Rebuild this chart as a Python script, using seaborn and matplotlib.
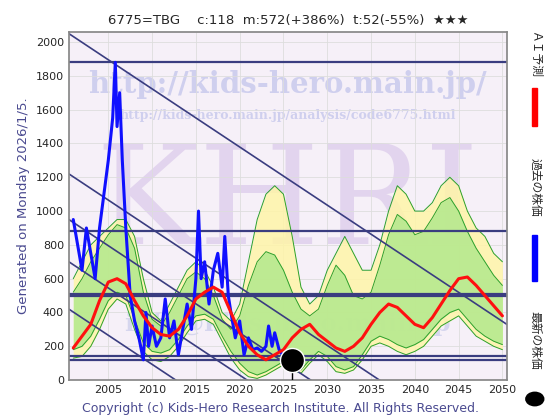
import numpy as np
import pandas as pd
import matplotlib
matplotlib.use('Agg')
import matplotlib.pyplot as plt
import seaborn as sns

sns.set_theme(style='whitegrid')
plt.rcParams['font.family'] = ['DejaVu Sans', 'Noto Sans CJK JP']

# past price (blue)
past_year = [2001.0, 2001.5, 2002.0, 2002.5, 2003.0, 2003.5, 2004.0, 2004.5, 2005.0, 2005.5, 2005.8,
             2006.0, 2006.3, 2006.6, 2007.0, 2007.5, 2008.0, 2008.5, 2009.0, 2009.3, 2009.6, 2010.0,
             2010.5, 2011.0, 2011.5, 2012.0, 2012.5, 2013.0, 2013.5, 2014.0, 2014.5, 2015.0, 2015.3,
             2015.6, 2016.0, 2016.5, 2017.0, 2017.5, 2018.0, 2018.3, 2018.7, 2019.0, 2019.5, 2020.0,
             2020.5, 2021.0, 2021.5, 2022.0, 2022.5, 2023.0, 2023.3, 2023.7, 2024.0, 2024.5, 2025.0]
past_price = [950, 800, 650, 900, 750, 600, 900, 1100, 1300, 1550, 1880,
              1500, 1700, 1300, 900, 500, 350, 250, 120, 400, 200, 320,
              200, 250, 480, 250, 350, 150, 300, 450, 300, 600, 1000,
              600, 700, 450, 650, 750, 550, 850, 500, 400, 250, 350,
              150, 250, 180, 190, 170, 200, 320, 200, 280, 180, 140]

years = list(range(2001, 2051))
ai_pred = [190, 260, 330, 470, 580, 600, 570, 470, 380, 310, 270, 260, 300, 380, 480, 520, 550, 520, 400, 280,
           200, 150, 120, 150, 180, 250, 300, 330, 270, 230, 190, 170, 200, 250, 330, 400, 450, 430, 380, 330,
           310, 370, 450, 530, 600, 610, 560, 500, 440, 380]
yellow_hi = [600, 700, 800, 850, 900, 950, 950, 850, 600, 400, 350, 450, 550, 650, 700, 650, 550, 400, 350, 450,
             700, 950, 1100, 1150, 1100, 850, 550, 450, 500, 650, 750, 850, 750, 650, 650, 800, 1000, 1150, 1100, 1000,
             1000, 1050, 1150, 1200, 1150, 1000, 900, 850, 750, 700]
yellow_lo = [130, 140, 200, 300, 420, 480, 450, 300, 170, 120, 110, 140, 200, 280, 350, 360, 330, 230, 130, 60,
             20, 10, 30, 60, 90, 60, 40, 100, 150, 110, 50, 40, 60, 120, 200, 220, 200, 170, 150, 170,
             200, 260, 320, 350, 380, 320, 260, 230, 200, 180]
green_hi = [520, 600, 700, 780, 860, 920, 900, 780, 520, 360, 320, 400, 500, 600, 640, 600, 500, 360, 300, 380,
            560, 700, 760, 740, 650, 520, 420, 380, 420, 560, 680, 620, 500, 480, 520, 680, 860, 980, 940, 860,
            880, 960, 1050, 1080, 1000, 880, 780, 700, 620, 560]
green_lo = [180, 200, 260, 360, 470, 520, 500, 360, 220, 170, 160, 180, 240, 320, 380, 390, 360, 260, 170, 100,
            50, 30, 50, 80, 110, 80, 60, 120, 170, 140, 80, 60, 80, 150, 230, 260, 240, 210, 190, 210,
            240, 300, 360, 400, 420, 360, 300, 260, 230, 210]
hlines = [1880, 880, 510, 500, 140, 120]
diag_start = [2050, 1220, 950, 700, 420]
diag_slope = -34.4
latest_year, latest_price = 2026.0, 120

df_past = pd.DataFrame({'year': past_year, 'price': past_price})
df_ai = pd.DataFrame({'year': years, 'price': ai_pred})

fig = plt.figure(figsize=(5.6, 4.2), dpi=100)
ax = fig.add_axes([0.123, 0.095, 0.782, 0.829])
ax.set_facecolor('#f6f0f8')

# watermarks (behind everything)
ax.text(0.5, 0.5, 'KHRI', transform=ax.transAxes, fontsize=100, color='#e2d4ee',
        ha='center', va='center', family='serif', zorder=0.1)
ax.text(0.5, 0.85, 'http://kids-hero.main.jp/', transform=ax.transAxes, fontsize=21,
        color='#cfcfee', ha='center', va='center', family='serif', fontweight='bold', zorder=0.1)
ax.text(0.5, 0.76, 'http://kids-hero.main.jp/analysis/code6775.html', transform=ax.transAxes,
        fontsize=9, color='#cfcfee', ha='center', va='center', family='serif', fontweight='bold', zorder=0.1)
ax.text(0.5, 0.16, 'info@kids-hero.main.jp', transform=ax.transAxes, fontsize=18,
        color='#d6d6ee', ha='center', va='center', family='serif', fontweight='bold', zorder=0.1)

ax.fill_between(years, yellow_lo, yellow_hi, color='#fff5a8', alpha=0.85, lw=0, zorder=1)
ax.fill_between(years, green_lo, green_hi, color='#aee88a', alpha=0.8, lw=0, zorder=1)
for lo, hi in [(yellow_lo, green_hi), (green_lo, yellow_hi)]:
    ax.plot(years, hi, color='#2ca02c', lw=0.7, zorder=1.5)
    ax.plot(years, lo, color='#2ca02c', lw=0.7, zorder=1.5)

for h in hlines:
    ax.axhline(h, color='#3a3d80', lw=1.6, zorder=2)
xs = np.array([2000.5, 2051.5])
for d in diag_start:
    ax.plot(xs, d + diag_slope * (xs - 2000.5), color='#3a3d80', lw=1.2, zorder=2)

sns.lineplot(data=df_past, x='year', y='price', color='#1010ff', lw=2.2, ax=ax, zorder=3)
sns.lineplot(data=df_ai, x='year', y='price', color='#ff1010', lw=2.2, ax=ax, zorder=3)
ax.plot([latest_year, latest_year], [0, latest_price], color='black', lw=1, zorder=4)
ax.scatter([latest_year], [latest_price], s=300, color='black', edgecolor='white', zorder=5)

ax.set_xlim(2000.5, 2050.5)
ax.set_ylim(0, 2060)
ax.set_xticks(range(2005, 2051, 5))
ax.set_yticks(range(0, 2001, 200))
ax.grid(color='#dddddd', lw=0.6)
ax.tick_params(labelsize=8, length=0)
ax.set_xlabel('')
ax.set_ylabel('Generated on Monday 2026/1/5.', color='#4a4a90', fontsize=9.5)
for s in ax.spines.values():
    s.set_color('#888888')
ax.set_title('6775=TBG    c:118  m:572(+386%)  t:52(-55%)  ★★★', fontsize=9.5, pad=6)
fig.text(0.5, 0.02, 'Copyright (c) Kids-Hero Research Institute. All Rights Reserved.',
         ha='center', color='#4a4a90', fontsize=9)

fam = ['Noto Sans CJK JP', 'DejaVu Sans']
fig.text(0.955, 0.87, 'ＡＩ予測', rotation=-90, ha='center', va='center', fontsize=8.5, family=fam)
fig.add_artist(plt.Rectangle((0.95, 0.70), 0.009, 0.09, color='red', transform=fig.transFigure))
fig.text(0.955, 0.555, '過去の株価', rotation=-90, ha='center', va='center', fontsize=8.5, family=fam)
fig.add_artist(plt.Rectangle((0.95, 0.33), 0.009, 0.11, color='blue', transform=fig.transFigure))
fig.text(0.955, 0.19, '最新の株価', rotation=-90, ha='center', va='center', fontsize=8.5, family=fam)
fig.add_artist(matplotlib.patches.Circle((0.955, 0.05), 0.016, color='black', transform=fig.transFigure))

fig.savefig('out.png', dpi=100)
